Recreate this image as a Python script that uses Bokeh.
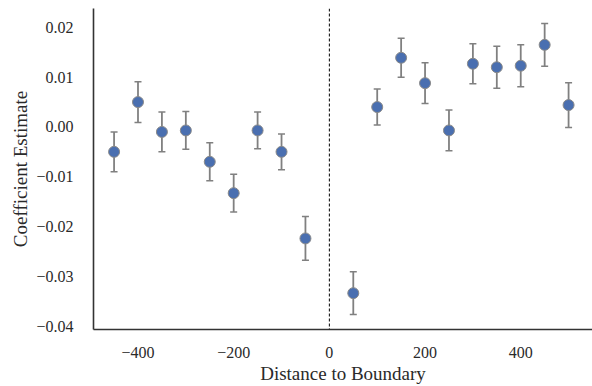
from bokeh.plotting import figure
from bokeh.models import (ColumnDataSource, FixedTicker, CustomJSTickFormatter, Span,
                          Whisker, TeeHead, Range1d)
from bokeh.embed import file_html
from bokeh.resources import INLINE

distance = [-450, -400, -350, -300, -250, -200, -150, -100, -50,
            50, 100, 150, 200, 250, 300, 350, 400, 450, 500]
coef = [-0.0050, 0.0050, -0.0010, -0.0007, -0.0070, -0.0133, -0.0007, -0.0050, -0.0224,
        -0.0334, 0.0040, 0.0139, 0.0088, -0.0007, 0.0127, 0.0120, 0.0123, 0.0165, 0.0044]
err = [0.0040, 0.0041, 0.0040, 0.0038, 0.0038, 0.0038, 0.0037, 0.0036, 0.0044,
       0.0043, 0.0036, 0.0039, 0.0041, 0.0041, 0.0040, 0.0042, 0.0042, 0.0043, 0.0045]
x_ticks = [-400, -200, 0, 200, 400]
y_ticks = [-0.04, -0.03, -0.02, -0.01, 0.00, 0.01, 0.02]

lower = [c - e for c, e in zip(coef, err)]
upper = [c + e for c, e in zip(coef, err)]
src = ColumnDataSource(dict(x=distance, y=coef, lo=lower, hi=upper))

FONT = "Liberation Serif"
p = figure(width=592, height=386, output_backend="svg", toolbar_location=None,
           x_range=Range1d(-493, 550), y_range=Range1d(-0.0407, 0.0238),
           min_border_left=93, min_border_right=0, min_border_top=8, min_border_bottom=53)
p.outline_line_color = None
p.xgrid.visible = False
p.ygrid.visible = False

span = Span(location=0, dimension="height", line_color="black", line_width=1, line_dash="3 2")
p.add_layout(span)

w = Whisker(base="x", upper="hi", lower="lo", source=src, line_color="#808080", line_width=1.8,
            upper_head=TeeHead(size=7, line_color="#808080", line_width=1.5),
            lower_head=TeeHead(size=7, line_color="#808080", line_width=1.5))
p.add_layout(w)

p.scatter("x", "y", source=src, size=11, fill_color="#4a6fb0", line_color="#8a8a8a", line_width=1)

for ax in (p.xaxis[0], p.yaxis[0]):
    ax.axis_line_color = "#333333"
    ax.axis_line_width = 1.6
    ax.major_tick_line_color = None
    ax.minor_tick_line_color = None
    ax.major_label_text_font = FONT
    ax.major_label_text_font_size = "16px"
    ax.major_label_text_color = "#2a2a2a"
    ax.axis_label_text_font = FONT
    ax.axis_label_text_font_size = "19px"
    ax.axis_label_text_font_style = "normal"
    ax.axis_label_text_color = "#2a2a2a"

p.xaxis.ticker = FixedTicker(ticks=x_ticks)
p.yaxis.ticker = FixedTicker(ticks=y_ticks)
p.xaxis.formatter = CustomJSTickFormatter(code="return (tick<0?'\u2212':'') + Math.abs(Math.round(tick)).toString();")
p.yaxis.formatter = CustomJSTickFormatter(code="var t=Math.abs(tick)<1e-9?0:tick; return (t<0?'\u2212':'') + Math.abs(t).toFixed(2);")
p.xaxis.major_label_standoff = 11
p.yaxis.major_label_standoff = 14
p.xaxis.axis_label = "Distance to Boundary"
p.yaxis.axis_label = "Coefficient Estimate"
p.xaxis.axis_label_standoff = 2
p.yaxis.axis_label_standoff = 2

open("out.html", "w").write(file_html(p, INLINE))
